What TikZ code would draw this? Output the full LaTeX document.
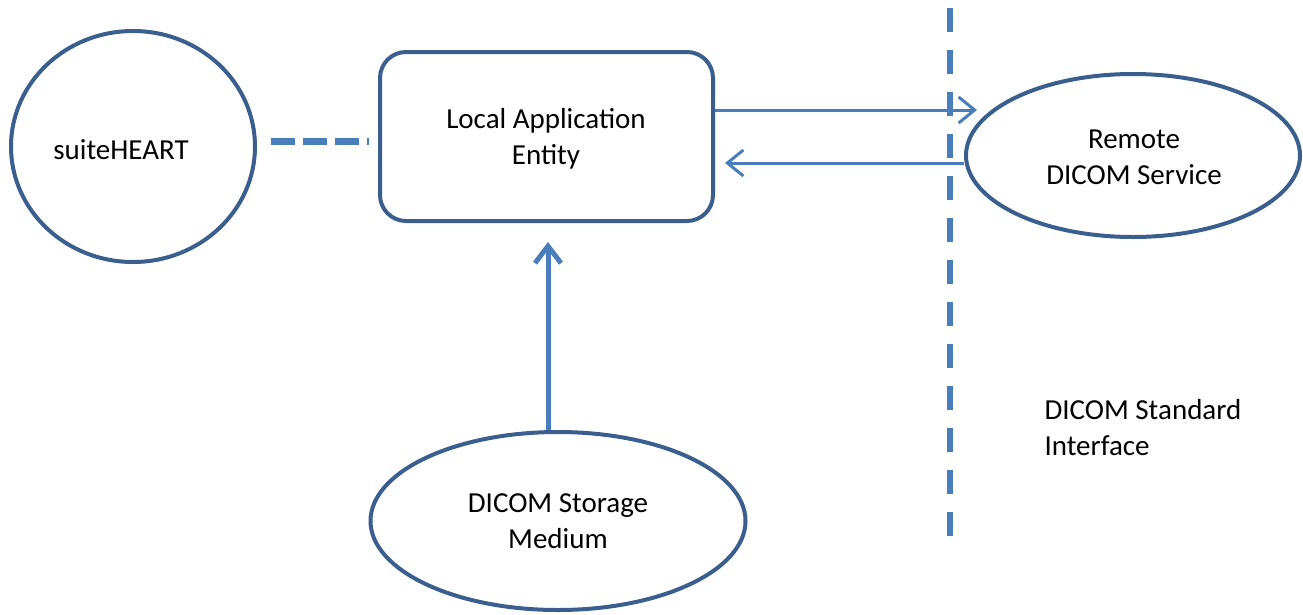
\documentclass[tikz,border=0pt]{standalone}
\usepackage{fontspec}
\setmainfont{Carlito}
\usetikzlibrary{arrows.meta,shapes.geometric}
\definecolor{outl}{HTML}{3A5F8F}
\definecolor{arr}{HTML}{4A7EBB}
\begin{document}
\begin{tikzpicture}[x=1pt,y=-1pt,
  every node/.style={font=\fontsize{29}{36}\selectfont, align=center},
  shapeline/.style={draw=outl, line width=4pt},
  thinarrow/.style={draw=arr, line width=3pt, -{Straight Barb[length=16pt,width=26pt,line width=3pt]}},
  thickarrow/.style={draw=arr, line width=5pt, -{Straight Barb[length=17pt,width=26pt,line width=5pt]}},
  dashline/.style={draw=arr, line width=7pt, dash pattern=on 24pt off 8pt},
  vdash/.style={draw=arr, line width=5.5pt, dash pattern=on 24pt off 18pt}]
\useasboundingbox (0,0) rectangle (1303,614);
\node[shapeline, ellipse, minimum width=244pt, minimum height=231pt, inner sep=0] (suite) at (133,146.5) {};
\node (suitetext) at (121,150) {suiteHEART};
\node[shapeline, rectangle, rounded corners=26pt, minimum width=333pt, minimum height=169pt, inner sep=0] (lae) at (546.5,136.5) {};
\node (laetext) at (546,139) {Local Application\\Entity};
\node[shapeline, ellipse, minimum width=334pt, minimum height=163pt, inner sep=0] (remote) at (1133,155.5) {};
\node (remotetext) at (1134,157) {Remote\\DICOM Service};
\node[shapeline, ellipse, minimum width=375pt, minimum height=178pt, inner sep=0] (storage) at (558,521) {DICOM Storage\\Medium};
\node[align=left, anchor=west] (iface) at (1041,428) {DICOM Standard\\Interface};
\coordinate (dtop) at (950,8);
\coordinate (dbot) at (950,538);
\draw[vdash] (dtop) -- (dbot);
\coordinate (dstart) at (271,141);
\coordinate (dend) at (369,141);
\coordinate (rtip) at (977,110);
\coordinate (ltip) at (725,163);
\coordinate (stip) at (548,242);
\draw[dashline] (dstart) -- (dend);
\draw[thinarrow] (lae.east |- rtip) -- (rtip);
\draw[thinarrow] (remote.west |- ltip) -- (ltip);
\draw[thickarrow] (storage.north -| stip) -- (stip);
\end{tikzpicture}
\end{document}
